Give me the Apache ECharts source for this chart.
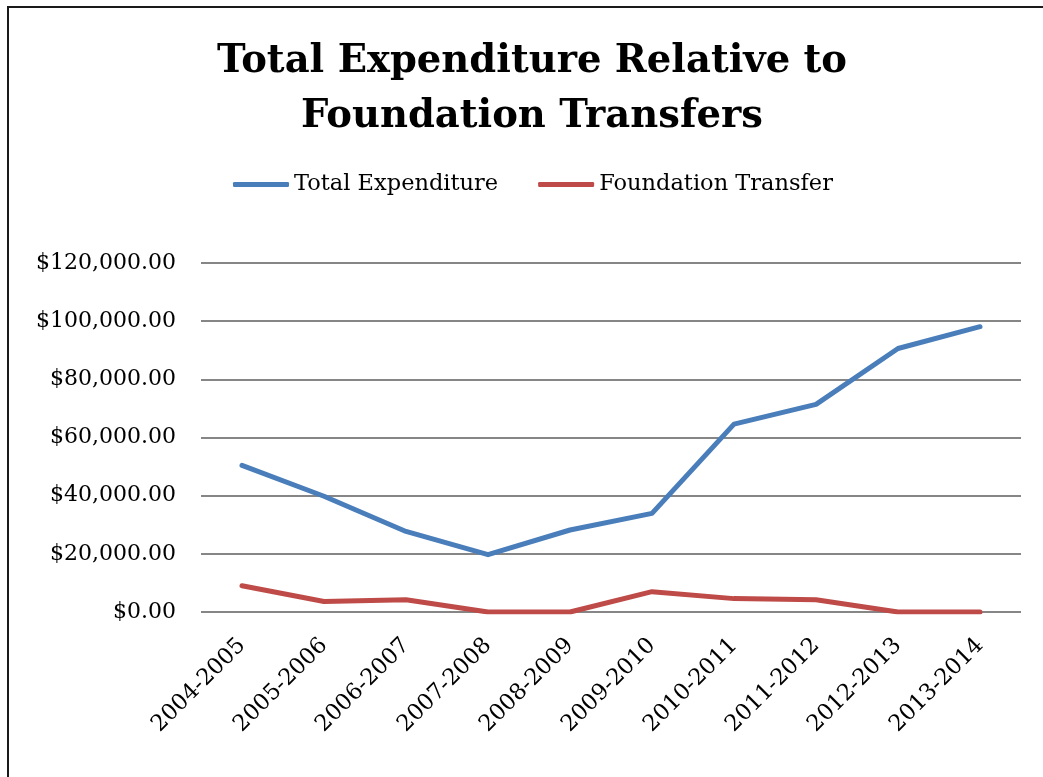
<!DOCTYPE html>
<html>
<head>
<meta charset="utf-8">
<script src="https://cdn.jsdelivr.net/npm/echarts@6/dist/echarts.min.js"></script>
<style>
html,body{margin:0;padding:0;background:#fff;}
#chart{width:1043px;height:777px;}
</style>
</head>
<body>
<div id="chart"></div>
<script>
var categories = ['2004-2005','2005-2006','2006-2007','2007-2008','2008-2009','2009-2010','2010-2011','2011-2012','2012-2013','2013-2014'];
var totalExpenditure = [50400, 39800, 27700, 19700, 28200, 33900, 64600, 71400, 90600, 98100];
var foundationTransfer = [9000, 3600, 4200, 0, 0, 7000, 4600, 4200, 0, 0];
var seriesNames = ['Total Expenditure', 'Foundation Transfer'];
var titleText = 'Total Expenditure Relative to\nFoundation Transfers';

function money(v) {
  var s = Math.round(v).toString().replace(/\B(?=(\d{3})+(?!\d))/g, ',');
  return '$' + s + '.00';
}

var chart = echarts.init(document.getElementById('chart'));
var serif = '"DejaVu Serif", "Liberation Serif", serif';
chart.setOption({
  backgroundColor: '#fff',
  animation: false,
  graphic: [{
    type: 'rect',
    shape: { x: 8, y: 7, width: 1100, height: 850 },
    style: { fill: 'none', stroke: '#1a1a1a', lineWidth: 2 },
    silent: true
  }],
  title: {
    text: titleText,
    left: 532,
    top: 34,
    padding: 0,
    textAlign: 'center',
    textStyle: {
      fontFamily: serif,
      fontWeight: 'bold',
      fontSize: 38.5,
      lineHeight: 55,
      color: '#000'
    }
  },
  legend: {
    data: seriesNames,
    left: 233,
    top: 173,
    padding: 0,
    itemWidth: 56,
    itemHeight: 5,
    itemGap: 40,
    icon: 'roundRect',
    textStyle: { fontFamily: serif, fontSize: 22.5, color: '#000' }
  },
  grid: { left: 201, right: 22, top: 263, bottom: 165, containLabel: false },
  xAxis: {
    type: 'category',
    data: categories,
    boundaryGap: true,
    axisLine: { show: false },
    axisTick: { show: false },
    axisLabel: {
      rotate: 45,
      margin: 30,
      interval: 0,
      fontFamily: serif,
      fontSize: 22.5,
      color: '#000'
    }
  },
  yAxis: {
    type: 'value',
    min: 0,
    max: 120000,
    interval: 20000,
    axisLine: { show: false },
    axisTick: { show: false },
    splitLine: { lineStyle: { color: '#868686', width: 2 } },
    axisLabel: {
      margin: 25,
      fontFamily: serif,
      fontSize: 22,
      color: '#000',
      formatter: money
    }
  },
  series: [{
    name: seriesNames[0],
    type: 'line',
    data: totalExpenditure,
    symbol: 'none',
    lineStyle: { color: '#4A7EBB', width: 5, cap: 'round', join: 'round' },
    itemStyle: { color: '#4A7EBB' }
  }, {
    name: seriesNames[1],
    type: 'line',
    data: foundationTransfer,
    symbol: 'none',
    lineStyle: { color: '#BE4B48', width: 5, cap: 'round', join: 'round' },
    itemStyle: { color: '#BE4B48' }
  }]
});
</script>
</body>
</html>
